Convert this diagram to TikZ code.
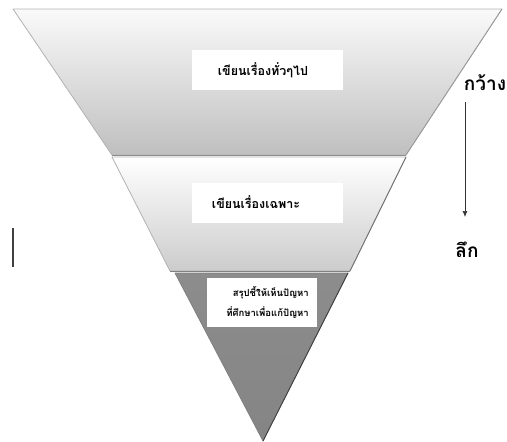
\documentclass[tikz,border=0pt]{standalone}
\usepackage{fontspec}
\newfontfamily\thaifont[Script=Thai]{Loma}
\usetikzlibrary{arrows.meta}
\begin{document}
\begin{tikzpicture}[x=1pt,y=-1pt,
  lbox/.style={fill=white},
  ltext/.style={inner sep=0pt,font=\thaifont\bfseries\fontsize{12.5}{15}\selectfont},
  side/.style={font=\thaifont\bfseries\fontsize{19}{21}\selectfont,inner sep=0pt},
  layer/.style={draw=black!30,line width=0.8pt,line join=round}]
\useasboundingbox (0,0) rectangle (507,442);
% top trapezoid
\path[layer,top color=black!2,bottom color=black!25]
  (13,9) -- (502,9) -- (406,155) -- (112,155) -- cycle;
\draw[black!45,line width=1pt] (112,155) -- (406,155);
\draw[black!40,line width=0.8pt] (502,9) -- (406,155);
% middle trapezoid
\path[layer,top color=white,bottom color=black!20]
  (112,157) -- (406,157) -- (350,271) -- (170,271) -- cycle;
\draw[black!50,line width=1pt] (170,271) -- (350,271);
\draw[black!55,line width=0.9pt] (406,157) -- (350,271);
% bottom triangle
\path[layer,draw=black!50,top color=black!45,middle color=black!58,bottom color=black!48]
  (175,273) -- (348,273) -- (263,441) -- cycle;
\draw[black!75,line width=0.9pt] (348,273) -- (263,441);
% label boxes
\fill[lbox] (192,50) rectangle (343,90);
\fill[lbox] (192,183) rectangle (343,223);
\fill[lbox] (207,278) rectangle (317,327);
\node[ltext] (general) at (263,70) {เขียนเรื่องทั่วๆไป};
\node[ltext] (specific) at (256,202) {เขียนเรื่องเฉพาะ};
\node[ltext,anchor=east,align=right,font=\thaifont\bfseries\fontsize{9.5}{20}\selectfont] (conclude) at (309,302.5) {สรุปชี้ให้เห็นปัญหา\\ที่ศึกษาเพื่อแก้ปัญหา};
% side labels
\node[side] (wide) at (485,83) {กว้าง};
\node[side] (deep) at (467,250) {ลึก};
\coordinate (a1) at (465,102);
\coordinate (a2) at (465,217);
\draw[black!80,line width=0.7pt,-{Latex[length=6pt,width=5pt]}] (a1) -- (a2);
% left mark
\coordinate (m1) at (13,228);
\coordinate (m2) at (13,267);
\draw[black!75,line width=2pt] (m1) -- (m2);
\end{tikzpicture}
\end{document}
